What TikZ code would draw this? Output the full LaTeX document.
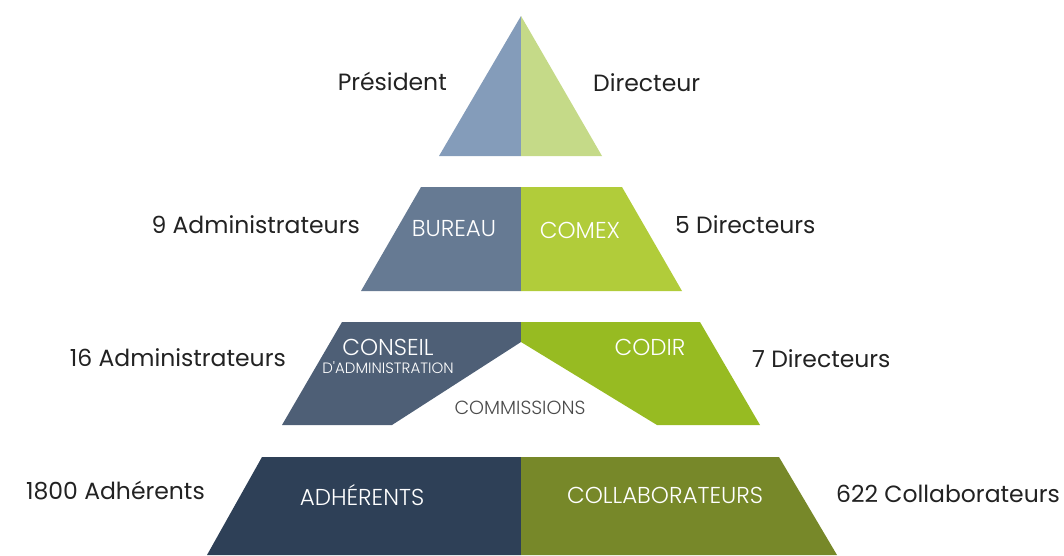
\documentclass[tikz,border=0pt]{standalone}
\usepackage{fontspec}
\setmainfont{Poppins}
\newfontfamily\innerfont{Poppins Light}
\definecolor{tl}{HTML}{849CBA}
\definecolor{tr}{HTML}{C5DA88}
\definecolor{bl}{HTML}{667A93}
\definecolor{br}{HTML}{B1CC3A}
\definecolor{cl}{HTML}{4E5F76}
\definecolor{cr}{HTML}{97BB22}
\definecolor{al}{HTML}{2E4057}
\definecolor{ar}{HTML}{778829}
\definecolor{txt}{HTML}{222222}
\definecolor{commtxt}{HTML}{4A4A4A}
\begin{document}
\begin{tikzpicture}[x=1pt,y=-1pt,
  outer/.style={text=txt,font=\fontsize{23.5}{26}\selectfont,inner sep=0pt},
  inlab/.style={text=white,font=\innerfont\fontsize{23}{25}\selectfont,inner sep=0pt},
  inlabsmall/.style={text=white,font=\innerfont\fontsize{15}{17}\selectfont,inner sep=0pt}]
\useasboundingbox (0,0) rectangle (1064,555);
% top triangle
\fill[tl] (521,16) -- (521,156) -- (439,156) -- cycle;
\fill[tr] (521,16) -- (602,156) -- (521,156) -- cycle;
% tier 2
\fill[bl] (421,187) -- (521,187) -- (521,291) -- (361,291) -- cycle;
\fill[br] (521,187) -- (622,187) -- (682,291) -- (521,291) -- cycle;
% tier 3
\fill[cl] (342,322) -- (521,322) -- (521,342) -- (392,425) -- (282,425) -- cycle;
\fill[cr] (521,322) -- (700,322) -- (760,425) -- (657,425) -- (521,342) -- cycle;
% tier 4
\fill[al] (262,457) -- (521,457) -- (521,555) -- (207,555) -- cycle;
\fill[ar] (521,457) -- (779,457) -- (837,555) -- (521,555) -- cycle;
% outer labels
\node[outer,anchor=east] (pres) at (447,81) {Président};
\node[outer,anchor=west] (dir) at (593,83) {Directeur};
\node[outer,anchor=east] (adm9) at (360,225) {9 Administrateurs};
\node[outer,anchor=west] (dir5) at (675,225) {5 Directeurs};
\node[outer,anchor=east] (adm16) at (286,358) {16 Administrateurs};
\node[outer,anchor=west] (dir7) at (752,359) {7 Directeurs};
\node[outer,anchor=east] (adh) at (205,491) {1800 Adhérents};
\node[outer,anchor=west] (col) at (836,494) {622 Collaborateurs};
% inner labels
\node[inlab] (bureau) at (454,229) {BUREAU};
\node[inlab] (comex) at (580,230) {COMEX};
\node[inlab] (conseil) at (388,347) {CONSEIL};
\node[inlabsmall] (dadmin) at (388,368) {D'ADMINISTRATION};
\node[inlab] (codir) at (650,347) {CODIR};
\node[inlabsmall,text=commtxt,font=\innerfont\fontsize{19}{21}\selectfont] (comm) at (520,408) {COMMISSIONS};
\node[inlab] (adhin) at (362,495) {ADHÉRENTS};
\node[inlab] (colin) at (665,495) {COLLABORATEURS};
\end{tikzpicture}
\end{document}
